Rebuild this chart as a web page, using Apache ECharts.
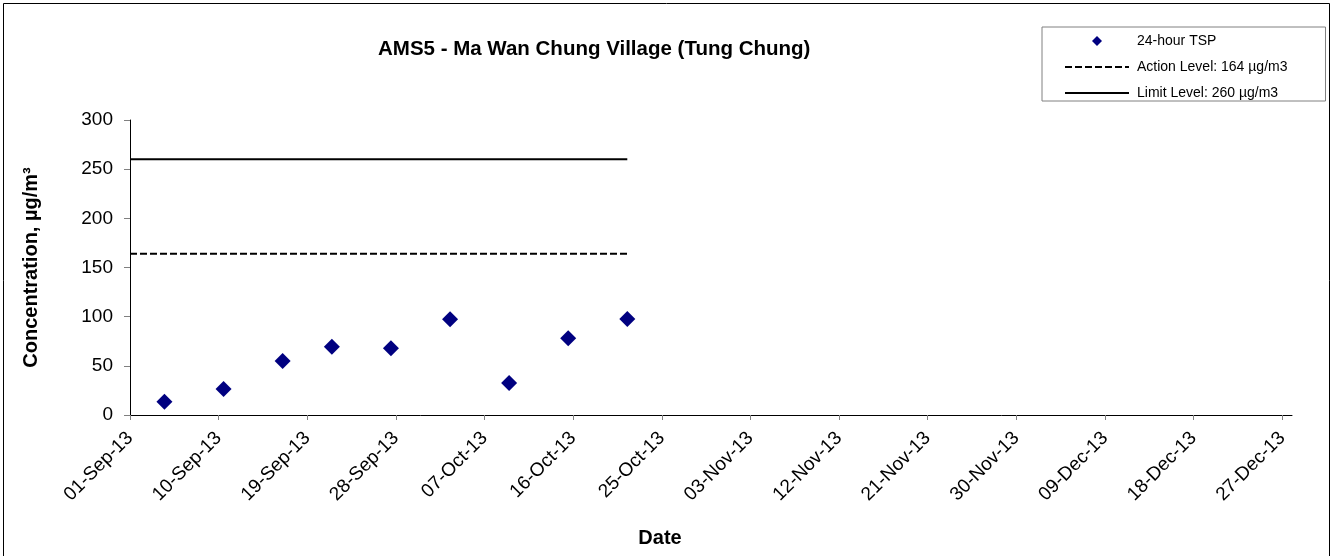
<!DOCTYPE html>
<html>
<head>
<meta charset="utf-8">
<script src="https://cdn.jsdelivr.net/npm/echarts@6/dist/echarts.min.js"></script>
<style>
html,body{margin:0;padding:0;background:#ffffff;}
#chart{width:1332px;height:556px;}
</style>
</head>
<body>
<div id="chart"></div>
<script>
// ---- data ----
const chartTitle = 'AMS5 - Ma Wan Chung Village (Tung Chung)';
const sampleDates = ['2013-09-04T12:00','2013-09-10T12:00','2013-09-16T12:00','2013-09-21T12:00','2013-09-27T12:00','2013-10-03T12:00','2013-10-09T12:00','2013-10-15T12:00','2013-10-21T12:00'];
const tspValues = [13.5, 26.4, 54.9, 69.5, 67.8, 97.3, 32.6, 78.0, 97.7];
const actionLevel = 164;
const limitLevel = 260;
const levelLineDates = ['2013-09-01T00:00', '2013-10-21T12:00'];
const tickDates = ['2013-09-01','2013-09-10','2013-09-19','2013-09-28','2013-10-07','2013-10-16','2013-10-25','2013-11-03','2013-11-12','2013-11-21','2013-11-30','2013-12-09','2013-12-18','2013-12-27'];
const axisStartDate = '2013-09-01T00:00';
const axisEndDate = '2013-12-28T00:00';
const yTicks = [0, 50, 100, 150, 200, 250, 300];
const seriesNames = ['24-hour TSP', 'Action Level: 164 \u00b5g/m3', 'Limit Level: 260 \u00b5g/m3'];

// ---- helpers ----
const MONTHS = ['Jan','Feb','Mar','Apr','May','Jun','Jul','Aug','Sep','Oct','Nov','Dec'];
function ms(s){ return Date.parse((s.length === 10 ? s + 'T00:00' : s) + ':00Z'); }
const t0 = ms(axisStartDate);
function dayOf(s){ return (ms(s) - t0) / 86400000; }
function fmt(v){
  const d = new Date(t0 + Math.round(v * 86400000));
  const dd = String(d.getUTCDate()).padStart(2,'0');
  const yy = String(d.getUTCFullYear() % 100).padStart(2,'0');
  return dd + '-' + MONTHS[d.getUTCMonth()] + '-' + yy;
}
const tickValues = tickDates.map(dayOf);
const FONT = '"Liberation Sans", Arial, sans-serif';
const NAVY = '#000080';

const chart = echarts.init(document.getElementById('chart'), null, {renderer:'canvas'});
chart.setOption({
  animation: false,
  backgroundColor: '#ffffff',
  textStyle: {fontFamily: FONT},
  title: {
    text: chartTitle,
    left: 378, top: 39, padding: 0,
    textStyle: {fontFamily: FONT, fontSize: 20.5, fontWeight: 'bold', color: '#000'}
  },
  legend: {
    orient: 'vertical',
    left: 1042, top: 27,
    padding: [7, 38, 1, 22],
    borderColor: '#808080', borderWidth: 1,
    itemWidth: 64, itemHeight: 11, itemGap: 12,
    data: [
      {name: seriesNames[0], icon: 'path://M0,0 M64,11 M32,0.5 L37,5.5 L32,10.5 L27,5.5 Z', itemStyle: {color: NAVY, opacity: 1}},
      {name: seriesNames[1], itemStyle: {opacity: 0}},
      {name: seriesNames[2], itemStyle: {opacity: 0}}
    ],
    textStyle: {fontFamily: FONT, fontSize: 14, color: '#000', padding: [0,0,0,3]}
  },
  grid: {left: 130, top: 120, right: 40, bottom: 141, containLabel: false},
  xAxis: {
    type: 'value',
    min: dayOf(axisStartDate), max: dayOf(axisEndDate),
    name: 'Date', nameLocation: 'middle', nameGap: 113,
    nameTextStyle: {fontFamily: FONT, fontSize: 20, fontWeight: 'bold', color: '#000', padding: [0, 102, 0, 0]},
    axisLine: {show: true, onZero: false, lineStyle: {color: '#000', width: 1}},
    axisTick: {show: true, length: 5, customValues: tickValues, lineStyle: {color: '#808080'}},
    axisLabel: {customValues: tickValues, rotate: 45, margin: 20, fontSize: 19, color: '#000', fontFamily: FONT, formatter: fmt},
    splitLine: {show: false}
  },
  yAxis: {
    type: 'value',
    min: yTicks[0], max: yTicks[yTicks.length-1], interval: 50,
    name: 'Concentration, \u00b5g/m\u00b3', nameLocation: 'middle', nameGap: 89,
    nameTextStyle: {fontFamily: FONT, fontSize: 20, fontWeight: 'bold', color: '#000'},
    axisLine: {show: true, lineStyle: {color: '#000', width: 1}},
    axisTick: {show: true, length: 6, lineStyle: {color: '#808080'}},
    axisLabel: {margin: 17, fontSize: 19, color: '#000', fontFamily: FONT},
    splitLine: {show: false}
  },
  series: [
    {
      name: seriesNames[0], type: 'scatter', symbol: 'diamond', symbolSize: 16, z: 5,
      itemStyle: {color: NAVY, opacity: 1},
      data: sampleDates.map((d, i) => [dayOf(d), tspValues[i]])
    },
    {
      name: seriesNames[1], type: 'line', symbol: 'none', z: 3,
      lineStyle: {color: '#000', width: 2, type: [7, 3]},
      itemStyle: {color: '#000'},
      data: levelLineDates.map(d => [dayOf(d), actionLevel])
    },
    {
      name: seriesNames[2], type: 'line', symbol: 'none', z: 3,
      lineStyle: {color: '#000', width: 2, type: 'solid'},
      itemStyle: {color: '#000'},
      data: levelLineDates.map(d => [dayOf(d), limitLevel])
    }
  ],
  graphic: [{
    type: 'rect', silent: true, z: -1,
    shape: {x: 3.5, y: 3.5, width: 1326, height: 600},
    style: {fill: 'none', stroke: '#000', lineWidth: 1}
  }]
});
</script>
</body>
</html>
